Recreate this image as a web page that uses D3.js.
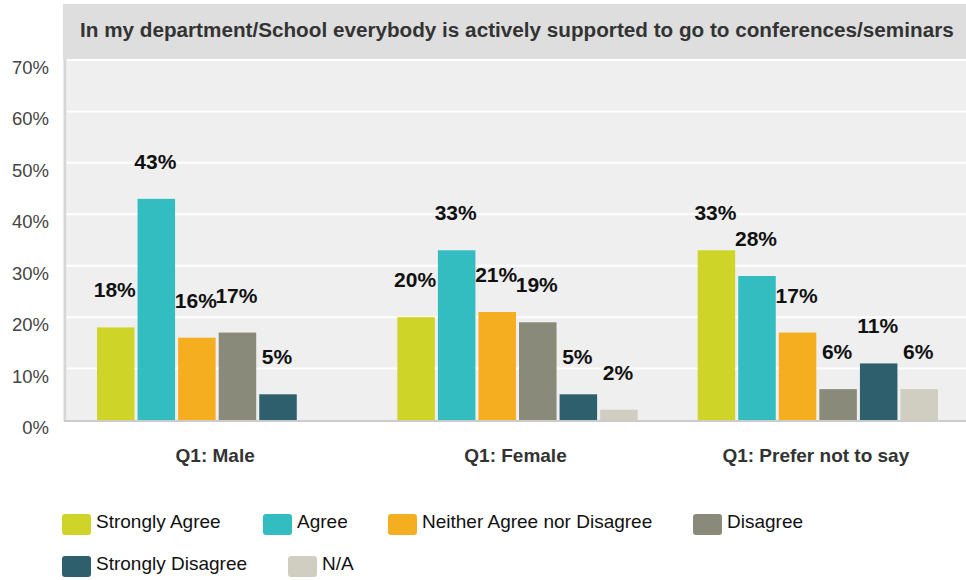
<!DOCTYPE html>
<html>
<head>
<meta charset="utf-8">
<script src="https://cdn.jsdelivr.net/npm/d3@7"></script>
<style>
  html, body { margin: 0; padding: 0; background: #fff; }
  svg { display: block; font-family: "Liberation Sans", Arial, sans-serif; }
</style>
</head>
<body>
<svg id="chart" width="966" height="580"></svg>
<script>
// Survey question and response breakdown
const title = "In my department/School everybody is actively supported to go to conferences/seminars";
const groups = ["Q1: Male", "Q1: Female", "Q1: Prefer not to say"];
const seriesNames = ["Strongly Agree", "Agree", "Neither Agree nor Disagree", "Disagree", "Strongly Disagree", "N/A"];
const seriesColors = ["#cfd428", "#33bdc0", "#f6ae21", "#898a79", "#2e5f6d", "#d0cec0"];
// Percentages per group, one entry per series (null = no response recorded)
const male = [18, 43, 16, 17, 5, null];
const female = [20, 33, 21, 19, 5, 2];
const preferNot = [33, 28, 17, 6, 11, 6];
const yTicks = [0, 10, 20, 30, 40, 50, 60, 70];

const values = [male, female, preferNot];

const svg = d3.select("#chart");
const plot = { left: 67, right: 966, top: 60, bottom: 420 };

// Title bar
svg.append("rect")
  .attr("x", 63).attr("y", 4)
  .attr("width", 966 - 63).attr("height", plot.top - 4)
  .attr("fill", "#dedede");
svg.append("text")
  .attr("x", 80).attr("y", 37)
  .attr("font-size", 20.7).attr("font-weight", "bold")
  .attr("fill", "#333")
  .text(title);

// Plot background
svg.append("rect")
  .attr("x", plot.left).attr("y", plot.top)
  .attr("width", plot.right - plot.left).attr("height", plot.bottom - plot.top)
  .attr("fill", "#efefef");

const y = d3.scaleLinear().domain([0, 70]).range([plot.bottom, plot.top]);
const x0 = d3.scaleBand().domain(groups).range([plot.left - 2, plot.right]).paddingInner(0).paddingOuter(0);
const x1 = d3.scaleBand().domain(seriesNames).range([32, x0.bandwidth() - 28]).paddingInner(0.075);

// Gridlines
svg.append("g").selectAll("line")
  .data(yTicks.filter(t => t > 0))
  .join("line")
  .attr("x1", plot.left).attr("x2", plot.right)
  .attr("y1", d => y(d)).attr("y2", d => y(d))
  .attr("stroke", "#ffffff").attr("stroke-width", 2);

// Y axis labels
const yAxis = d3.axisLeft(y).tickValues(yTicks).tickFormat(d => d + "%").tickSize(0).tickPadding(0);
const yg = svg.append("g").attr("transform", "translate(49,13.5)").call(yAxis);
yg.select(".domain").remove();
yg.selectAll("text")
  .attr("dy", 0)
  .attr("font-size", 18.5).attr("fill", "#444")
  .attr("font-family", "Liberation Sans, Arial, sans-serif");

// Axis lines
svg.append("line")
  .attr("x1", 65).attr("x2", 65).attr("y1", plot.top).attr("y2", plot.bottom + 1)
  .attr("stroke", "#d6d6d6").attr("stroke-width", 3);
svg.append("line")
  .attr("x1", 64).attr("x2", plot.right).attr("y1", plot.bottom + 1).attr("y2", plot.bottom + 1)
  .attr("stroke", "#cccccc").attr("stroke-width", 2);

// Bars and value labels
const cells = [];
groups.forEach((g, gi) => {
  seriesNames.forEach((s, si) => {
    const v = values[gi][si];
    if (v !== null && v !== undefined) cells.push({ group: g, series: s, si, value: v });
  });
});

const barG = svg.append("g");
barG.selectAll("rect")
  .data(cells)
  .join("rect")
  .attr("x", d => x0(d.group) + x1(d.series))
  .attr("y", d => y(d.value))
  .attr("width", x1.bandwidth())
  .attr("height", d => y(0) - y(d.value))
  .attr("fill", d => seriesColors[d.si]);

barG.selectAll("text")
  .data(cells)
  .join("text")
  .attr("x", d => x0(d.group) + x1(d.series) + x1.bandwidth() / 2 - 1)
  .attr("y", d => y(d.value) - 30)
  .attr("text-anchor", "middle")
  .attr("font-size", 21).attr("font-weight", "bold")
  .attr("fill", "#111")
  .text(d => d.value + "%");

// Category labels
svg.append("g").selectAll("text")
  .data(groups)
  .join("text")
  .attr("x", d => x0(d) + x0.bandwidth() / 2)
  .attr("y", 462)
  .attr("text-anchor", "middle")
  .attr("font-size", 19).attr("font-weight", "bold")
  .attr("fill", "#333")
  .text(d => d);

// Legend
const legendPos = [
  { x: 62, y: 514 }, { x: 263, y: 514 }, { x: 388, y: 514 }, { x: 693, y: 514 },
  { x: 62, y: 556 }, { x: 288, y: 556 }
];
const lg = svg.append("g").selectAll("g")
  .data(seriesNames)
  .join("g")
  .attr("transform", (d, i) => `translate(${legendPos[i].x},${legendPos[i].y})`);
lg.append("rect")
  .attr("width", 29).attr("height", 21).attr("rx", 3)
  .attr("fill", (d, i) => seriesColors[i]);
lg.append("text")
  .attr("x", 34).attr("y", 14)
  .attr("font-size", 19).attr("fill", "#111")
  .text(d => d);
</script>
</body>
</html>
